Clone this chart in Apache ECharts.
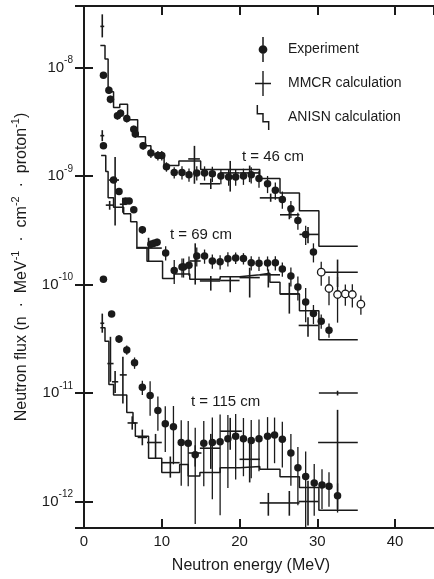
<!DOCTYPE html>
<html>
<head>
<meta charset="utf-8">
<script src="https://cdn.jsdelivr.net/npm/echarts@6/dist/echarts.min.js"></script>
<style>
  html, body { margin: 0; padding: 0; background: #fff; }
  #chart { width: 434px; height: 579px; }
</style>
</head>
<body>
<div id="chart"></div>
<script>
// experiment: [energy MeV, flux, relative error]
const exp46 = [
  [2.5, 8.5e-9, 0.06], [3.2, 6.2e-9, 0.08], [3.4, 5.1e-9, 0.08], [4.3, 3.6e-9, 0.08],
  [4.7, 3.8e-9, 0.08], [5.5, 3.4e-9, 0.08], [6.4, 2.7e-9, 0.08], [6.6, 2.45e-9, 0.08],
  [7.6, 1.9e-9, 0.08], [8.6, 1.63e-9, 0.1], [9.5, 1.55e-9, 0.1], [10.0, 1.55e-9, 0.1],
  [10.6, 1.22e-9, 0.1], [11.6, 1.08e-9, 0.12], [12.6, 1.08e-9, 0.14], [13.5, 1.03e-9, 0.14],
  [14.5, 1.07e-9, 0.15], [15.5, 1.07e-9, 0.15], [16.5, 1.05e-9, 0.16], [17.6, 1.0e-9, 0.16],
  [18.6, 0.98e-9, 0.17], [19.5, 0.98e-9, 0.17], [20.5, 1.0e-9, 0.17], [21.5, 1.03e-9, 0.17],
  [22.5, 0.95e-9, 0.18], [23.6, 8.5e-10, 0.18], [24.6, 7.4e-10, 0.18], [25.5, 6.1e-10, 0.18],
  [26.6, 5.0e-10, 0.18], [27.5, 3.9e-10, 0.18], [28.5, 2.9e-10, 0.2], [29.5, 2.0e-10, 0.2]
]
const open46 = [
  [30.5, 1.3e-10, 0.25], [31.5, 9.2e-11, 0.3], [32.6, 8.1e-11, 0.45],
  [33.6, 8.2e-11, 0.22], [34.5, 8.1e-11, 0.24], [35.6, 6.6e-11, 0.2]
]
const exp69 = [
  [2.5, 1.9e-9, 0.06], [3.8, 9.2e-10, 0.06], [4.5, 7.2e-10, 0.06], [5.35, 5.9e-10, 0.06],
  [5.8, 5.9e-10, 0.06], [6.4, 4.9e-10, 0.06], [7.5, 3.2e-10, 0.08], [8.6, 2.35e-10, 0.08],
  [9.0, 2.4e-10, 0.08], [9.4, 2.45e-10, 0.08], [10.5, 1.96e-10, 0.15], [11.6, 1.35e-10, 0.25],
  [12.6, 1.45e-10, 0.2], [12.8, 1.45e-10, 0.2], [13.5, 1.51e-10, 0.2], [14.5, 1.83e-10, 0.2],
  [15.5, 1.83e-10, 0.15], [16.5, 1.65e-10, 0.15], [17.5, 1.62e-10, 0.15], [18.5, 1.73e-10, 0.15],
  [19.5, 1.76e-10, 0.12], [20.5, 1.74e-10, 0.12], [21.5, 1.59e-10, 0.15], [22.5, 1.57e-10, 0.15],
  [23.6, 1.58e-10, 0.15], [24.6, 1.59e-10, 0.15], [25.5, 1.39e-10, 0.15], [26.6, 1.2e-10, 0.2],
  [27.5, 9.5e-11, 0.25], [28.5, 6.9e-11, 0.35], [29.5, 5.4e-11, 0.2], [30.5, 4.6e-11, 0.15],
  [31.5, 3.8e-11, 0.15]
]
const exp115 = [
  [2.5, 1.12e-10, 0.05], [3.55, 5.35e-11, 0.06], [4.5, 3.15e-11, 0.08], [5.5, 2.5e-11, 0.1],
  [6.5, 1.9e-11, 0.12], [7.5, 1.13e-11, 0.15], [8.5, 9.5e-12, 0.35], [9.5, 6.9e-12, 0.35],
  [10.45, 5.2e-12, 0.45], [11.5, 4.9e-12, 0.55], [12.5, 3.5e-12, 0.6], [13.4, 3.45e-12, 0.6],
  [14.3, 2.7e-12, 0.77], [15.4, 3.45e-12, 0.6], [16.5, 3.5e-12, 0.7], [17.5, 3.55e-12, 0.79],
  [18.5, 3.8e-12, 0.65], [19.5, 4.0e-12, 0.6], [20.5, 3.8e-12, 0.55], [21.5, 3.65e-12, 0.55],
  [22.5, 3.8e-12, 0.5], [23.6, 4.0e-12, 0.5], [24.5, 4.1e-12, 0.45], [25.5, 3.75e-12, 0.45],
  [26.6, 2.8e-12, 0.5], [27.5, 2.05e-12, 0.55], [28.5, 1.7e-12, 0.7], [29.6, 1.48e-12, 0.5],
  [30.6, 1.42e-12, 0.4], [31.5, 1.38e-12, 0.35], [32.6, 1.13e-12, 0.3]
]

// MMCR: [energy, flux, E low, E high, flux low, flux high]
const mmcr46 = [
  [2.35, 2.4e-8, 2.1, 2.6, 1.9e-8, 3.1e-8],
  [14.2, 1.44e-9, 13.4, 14.9, 0.85e-9, 1.9e-9],
  [16.3, 8.5e-10, 14.9, 17.5, 7.6e-10, 9.5e-10],
  [18.8, 1.07e-9, 17.5, 20.0, 0.72e-9, 1.38e-9],
  [21.3, 1.07e-9, 20.0, 22.6, 0.88e-9, 1.25e-9],
  [24.0, 6.3e-10, 22.6, 25.2, 5.8e-10, 6.9e-10],
  [26.4, 4.4e-10, 25.2, 27.7, 4.0e-10, 4.9e-10],
  [28.8, 2.9e-10, 27.7, 30.2, 2.4e-10, 3.4e-10],
  [32.6, 1.3e-10, 30.2, 35.2, 0.95e-10, 1.7e-10]
]
const mmcr69 = [
  [2.35, 2.36e-9, 2.1, 2.6, 2.1e-9, 2.65e-9],
  [3.3, 5.4e-10, 2.8, 3.85, 4.9e-10, 5.9e-10],
  [4.0, 9.2e-10, 3.2, 4.5, 3.5e-10, 1.5e-9],
  [5.0, 5.5e-10, 4.6, 5.5, 4.6e-10, 6.3e-10],
  [8.3, 2.17e-10, 6.7, 10.0, 1.65e-10, 2.7e-10],
  [14.3, 1.65e-10, 13.6, 15.0, 1.0e-10, 2.4e-10],
  [16.3, 1.08e-10, 14.9, 17.5, 0.88e-10, 1.2e-10],
  [18.8, 1.09e-10, 17.5, 20.0, 0.85e-10, 1.2e-10],
  [21.3, 1.16e-10, 20.0, 22.6, 0.76e-10, 1.43e-10],
  [23.7, 1.23e-10, 22.6, 25.2, 0.94e-10, 1.38e-10],
  [26.4, 8.2e-11, 25.2, 27.7, 5.4e-11, 1.04e-10],
  [28.8, 4.2e-11, 27.6, 30.1, 3.3e-11, 5.0e-11],
  [32.6, 1.0e-11, 30.2, 35.2, 0.95e-11, 1.05e-11]
]
const mmcr115 = [
  [2.35, 4.4e-11, 2.1, 2.6, 3.6e-11, 5.4e-11],
  [3.4, 1.87e-11, 3.0, 3.8, 1.27e-11, 3.3e-11],
  [4.0, 1.27e-11, 3.6, 4.4, 1.0e-11, 1.6e-11],
  [5.0, 1.47e-11, 4.6, 5.5, 0.8e-11, 2.16e-11],
  [6.2, 5.3e-12, 5.6, 6.9, 4.6e-12, 6.1e-12],
  [7.5, 3.9e-12, 6.9, 8.1, 3.3e-12, 4.6e-12],
  [9.2, 3.5e-12, 8.1, 10.0, 2.5e-12, 4.2e-12],
  [11.1, 2.28e-12, 10.0, 12.3, 1.66e-12, 2.6e-12],
  [14.3, 2.8e-12, 13.4, 15.1, 2.1e-12, 3.3e-12],
  [16.3, 3.1e-12, 14.9, 17.5, 2.0e-12, 4.2e-12],
  [18.8, 4.45e-12, 17.5, 20.3, 3.0e-12, 5.9e-12],
  [21.3, 2.45e-12, 20.0, 22.6, 1.5e-12, 3.7e-12],
  [23.7, 0.97e-12, 22.6, 25.2, 0.74e-12, 1.2e-12],
  [26.4, 0.97e-12, 25.2, 27.7, 0.74e-12, 1.25e-12],
  [28.8, 1.0e-12, 27.6, 30.1, 0.6e-12, 1.55e-12],
  [32.6, 3.5e-12, 30.1, 35.2, 0.85e-12, 7e-12]
]

// ANISN group structure (bin edges) and flux per bin
const anisn46Edges = [2.1, 2.7, 3.1, 3.8, 4.6, 5.6, 6.9, 7.9, 8.6, 10.3, 12.2, 15.0, 22.6, 25.2, 27.7, 30.2, 35.2]
const anisn46Flux = [1.6e-8, 1.2e-8, 6.0e-9, 4.3e-9, 4.6e-9, 3.3e-9, 2.3e-9, 1.9e-9, 1.6e-9, 1.25e-9, 1.38e-9, 1.15e-9, 0.95e-9, 7.0e-10, 4.8e-10, 2.25e-10]
const anisn69Edges = [2.2, 2.8, 3.1, 3.8, 5.1, 6.0, 6.8, 8.1, 10.1, 11.6, 13.6, 17.5, 20.0, 22.6, 23.9, 25.2, 27.7, 30.2, 35.2]
const anisn69Flux = [1.55e-9, 1.1e-9, 6.3e-10, 5.15e-10, 4.5e-10, 3.8e-10, 2.2e-10, 1.64e-10, 1.14e-10, 1.25e-10, 1.12e-10, 1.18e-10, 1.23e-10, 1.27e-10, 1.05e-10, 8.2e-11, 5.75e-11, 3.1e-11]
const anisn115Edges = [2.1, 2.7, 3.2, 3.8, 5.5, 6.3, 6.6, 8.3, 10.0, 12.3, 13.4, 14.9, 17.5, 20.0, 22.6, 25.2, 27.7, 30.2, 35.2]
const anisn115Flux = [4.0e-11, 3.0e-11, 1.2e-11, 9.6e-12, 6.6e-12, 5.3e-12, 4.0e-12, 2.5e-12, 1.85e-12, 2.2e-12, 1.72e-12, 1.85e-12, 2.05e-12, 2.1e-12, 1.98e-12, 1.69e-12, 1.35e-12, 8.3e-13]

const thicknessLabels = [
  { text: 't = 46 cm', left: 242, top: 149 },
  { text: 't = 69 cm', left: 170, top: 227 },
  { text: 't = 115 cm', left: 191, top: 394 }
]

const ink = '#1a1a1a'
const font = 'Liberation Sans, Arial, Helvetica, sans-serif'

function stepPoints(edges, flux) {
  return edges.map((e, i) => [e, flux[Math.min(i, flux.length - 1)]])
}

function renderErr(params, api) {
  const e = api.value(0), f = api.value(1), s = api.value(2)
  const hi = api.coord([e, f * (1 + s)])
  const lo = api.coord([e, f * (1 - s)])
  return {
    type: 'line',
    shape: { x1: hi[0], y1: hi[1], x2: lo[0], y2: lo[1] },
    style: { stroke: ink, lineWidth: 1.3 }
  }
}

function renderCross(params, api) {
  const c = api.coord([api.value(0), api.value(1)])
  const l = api.coord([api.value(2), api.value(1)])
  const r = api.coord([api.value(3), api.value(1)])
  const lo = api.coord([api.value(0), api.value(4)])
  const hi = api.coord([api.value(0), api.value(5)])
  return {
    type: 'group',
    children: [
      { type: 'line', shape: { x1: l[0], y1: c[1], x2: r[0], y2: c[1] }, style: { stroke: ink, lineWidth: 1.6 } },
      { type: 'line', shape: { x1: c[0], y1: hi[1], x2: c[0], y2: lo[1] }, style: { stroke: ink, lineWidth: 1.6 } }
    ]
  }
}

const series = []
function addExperiment(data, open) {
  series.push({
    name: 'Experiment', type: 'scatter', data: data, symbol: 'circle', symbolSize: 7.5, z: 5,
    itemStyle: open ? { color: '#fff', borderColor: ink, borderWidth: 1.3, opacity: 1 } : { color: ink, opacity: 1 }
  })
  series.push({
    name: 'Experiment', type: 'custom', data: data, renderItem: renderErr, clip: true, z: 3,
    encode: { x: 0, y: 1 }, itemStyle: { color: ink }
  })
}
addExperiment(exp46, false)
addExperiment(open46, true)
addExperiment(exp69, false)
addExperiment(exp115, false)
;[mmcr46, mmcr69, mmcr115].forEach(d => {
  series.push({
    name: 'MMCR calculation', type: 'custom', data: d, renderItem: renderCross, clip: true, z: 4,
    encode: { x: 0, y: 1 }, itemStyle: { color: ink }
  })
})
;[[anisn46Edges, anisn46Flux], [anisn69Edges, anisn69Flux], [anisn115Edges, anisn115Flux]].forEach(([e, f]) => {
  series.push({
    name: 'ANISN calculation', type: 'line', step: 'end', data: stepPoints(e, f), symbol: 'none',
    lineStyle: { color: ink, width: 1.5 }, itemStyle: { color: ink }, z: 2
  })
})

const expIcon = 'path://M5.4,2 h1.2 v20 h-1.2 Z M2.5,12 A3.5,3.5 0 1 1 9.5,12 A3.5,3.5 0 1 1 2.5,12 Z'
const crossIcon = 'path://M0,11.8 h16 v1.4 h-16 Z M7.3,0 h1.4 v25 h-1.4 Z'
const stepIcon = 'path://M0,0 L1.3,0 L1.3,7 L6.3,7 L6.3,14 L11.3,14 L11.3,22 L10,22 L10,15.3 L5,15.3 L5,8.3 L0,8.3 Z'

const labelRich = {
  b: { fontSize: 15, fontFamily: font, color: ink, lineHeight: 24 },
  s: { fontSize: 10, fontFamily: font, color: ink, verticalAlign: 'top' }
}
const nameRich = {
  b: { fontSize: 16, fontFamily: font, color: ink, lineHeight: 24 },
  s: { fontSize: 11, fontFamily: font, color: ink, verticalAlign: 'top' }
}

const chart = echarts.init(document.getElementById('chart'))
chart.setOption({
  animation: false,
  color: [ink],
  grid: { left: 84, right: 0, top: 6, bottom: 47 },
  legend: {
    orient: 'vertical', left: 250, top: 32, itemWidth: 16, itemHeight: 25, itemGap: 9,
    selectedMode: false,
    textStyle: { fontSize: 14, fontFamily: font, color: ink, padding: [0, 0, 0, 12] },
    data: [
      { name: 'Experiment', icon: expIcon },
      { name: 'MMCR calculation', icon: crossIcon },
      { name: 'ANISN calculation', icon: stepIcon }
    ]
  },
  xAxis: [
    {
      type: 'value', min: 0, max: 45, interval: 10,
      name: 'Neutron energy (MeV)', nameLocation: 'middle', nameGap: 30,
      nameTextStyle: { fontSize: 16, fontFamily: font, color: ink, padding: [0, 16, 0, 0] },
      axisLine: { lineStyle: { color: ink, width: 2 } },
      axisTick: { inside: true, length: 9, lineStyle: { color: ink, width: 2 } },
      axisLabel: { fontSize: 15, fontFamily: font, color: ink, margin: 6, showMaxLabel: false },
      splitLine: { show: false }
    },
    {
      type: 'value', position: 'top', min: 0, max: 45, interval: 10,
      axisLine: { lineStyle: { color: ink, width: 2 } },
      axisTick: { inside: true, length: 9, lineStyle: { color: ink, width: 2 } },
      axisLabel: { show: false }, splitLine: { show: false }
    }
  ],
  yAxis: [
    {
      type: 'log', logBase: 10, min: 5.7e-13, max: 3.7e-8,
      name: '{b|Neutron flux (n  ·  MeV}{s|-1}{b|  ·  cm}{s|-2}{b|  ·  proton}{s|-1}{b|)}',
      nameLocation: 'middle', nameGap: 50,
      nameTextStyle: { rich: nameRich },
      axisLine: { lineStyle: { color: ink, width: 2 } },
      axisTick: { inside: true, length: 9, lineStyle: { color: ink, width: 2 } },
      axisLabel: {
        margin: 11, showMinLabel: false, showMaxLabel: false,
        formatter: v => '{b|10}{s|' + Math.round(Math.log10(v)) + '}',
        rich: labelRich
      },
      splitLine: { show: false }
    },
    {
      type: 'log', logBase: 10, min: 5.7e-13, max: 3.7e-8, position: 'right',
      axisLine: { show: true, lineStyle: { color: ink, width: 2 } },
      axisTick: { inside: true, length: 9, lineStyle: { color: ink, width: 2 } },
      axisLabel: { show: false }, splitLine: { show: false }
    }
  ],
  graphic: thicknessLabels.map(t => ({
    type: 'text', left: t.left, top: t.top,
    style: { text: t.text, fontSize: 15, fontFamily: font, fill: ink }
  })),
  series: series
})
</script>
</body>
</html>
